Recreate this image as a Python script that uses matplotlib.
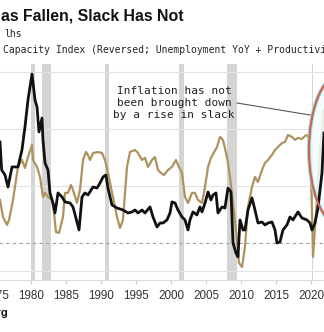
import numpy as np
import matplotlib
matplotlib.use("Agg")
import matplotlib.pyplot as plt
from matplotlib.patches import Ellipse

# Inflation (black, lhs, %)
infl_year = [1975.57, 1975.81, 1976.29, 1976.71, 1977.29, 1977.71, 1978.14, 1978.71, 1979.14, 1979.57,
             1980.14, 1980.57, 1980.86, 1981.14, 1981.57, 1981.71, 1982.00, 1982.43, 1982.71, 1983.14,
             1983.43, 1983.86, 1984.43, 1984.86, 1985.57, 1986.00, 1986.57, 1986.86, 1987.29, 1987.71,
             1988.14, 1988.86, 1989.43, 1989.86, 1990.29, 1990.71, 1991.00, 1991.57, 1992.29, 1993.14,
             1993.86, 1994.43, 1994.86, 1995.29, 1995.86, 1996.29, 1997.00, 1997.43, 1998.00, 1998.43,
             1998.86, 1999.43, 1999.86, 2000.14, 2000.57, 2001.00, 2001.57, 2002.00, 2002.43, 2002.71,
             2003.14, 2003.71, 2004.14, 2004.43, 2004.86, 2005.29, 2005.71, 2006.00, 2006.43, 2006.71,
             2007.29, 2007.71, 2008.14, 2008.57, 2008.86, 2009.29, 2009.57, 2009.86, 2010.29, 2010.57,
             2011.00, 2011.57, 2012.00, 2012.43, 2013.00, 2013.43, 2013.86, 2014.43, 2014.86, 2015.14,
             2015.57, 2016.00, 2016.57, 2017.00, 2017.43, 2018.14, 2018.71, 2019.43, 2019.86, 2020.14,
             2020.57, 2021.00, 2021.57, 2021.86]
infl_val = [8.86, 6.40, 5.96, 4.91, 6.67, 6.67, 6.67, 8.16, 10.18, 12.54,
            14.82, 12.54, 11.93, 9.74, 10.96, 9.04, 7.02, 6.40, 4.39, 3.51,
            2.63, 4.39, 4.04, 3.60, 3.51, 3.16, 1.84, 1.14, 4.04, 4.39,
            4.21, 4.91, 4.82, 5.26, 5.79, 5.96, 4.82, 3.33, 3.07, 2.89,
            2.63, 2.72, 2.89, 2.63, 2.89, 2.63, 3.16, 2.28, 1.40, 1.75,
            1.75, 2.02, 2.63, 3.60, 3.51, 2.89, 2.28, 2.02, 1.14, 2.02,
            2.72, 2.46, 3.16, 2.72, 3.51, 4.47, 3.77, 4.21, 4.39, 2.63,
            3.16, 3.07, 4.82, 4.47, 0.00, -0.88, -1.23, 2.02, 1.14, 1.14,
            2.89, 3.95, 2.89, 1.75, 1.84, 1.58, 1.75, 1.84, 1.14, 0.00,
            0.09, 1.14, 1.58, 2.28, 2.02, 2.72, 2.19, 2.02, 1.75, 1.14,
            1.75, 3.07, 6.14, 9.65]

# Capacity index, reversed (tan), in lhs-equivalent units
cap_year = [1975.57, 1976.00, 1976.57, 1976.86, 1977.43, 1977.86, 1978.14, 1978.71, 1979.14, 1979.57,
            1980.14, 1980.29, 1980.86, 1981.29, 1981.71, 1982.00, 1982.43, 1983.00, 1983.29, 1983.57,
            1984.00, 1984.57, 1984.86, 1985.29, 1985.71, 1986.00, 1986.57, 1987.00, 1987.43, 1987.86,
            1988.14, 1988.43, 1988.86, 1989.57, 1990.14, 1990.57, 1991.00, 1991.71, 1992.29, 1992.71,
            1993.14, 1993.71, 1994.14, 1994.86, 1995.29, 1995.86, 1996.29, 1996.71, 1997.29, 1997.71,
            1998.14, 1998.57, 1999.00, 1999.57, 2000.14, 2000.71, 2001.14, 2001.57, 2002.00, 2002.43,
            2003.00, 2003.43, 2003.86, 2004.43, 2004.86, 2005.29, 2005.71, 2006.57, 2007.00, 2007.43,
            2008.00, 2008.43, 2008.86, 2009.43, 2009.71, 2010.14, 2010.57, 2011.00, 2011.57, 2012.00,
            2012.43, 2013.00, 2013.43, 2013.86, 2014.43, 2014.86, 2015.29, 2015.86, 2016.29, 2016.71,
            2017.29, 2017.71, 2018.14, 2018.71, 2019.14, 2019.43, 2019.86, 2020.14, 2020.29, 2020.57,
            2020.86, 2021.29, 2021.86]
cap_val = [3.77, 2.28, 1.58, 2.02, 3.77, 5.53, 6.67, 7.28, 6.58, 7.54,
           8.60, 7.28, 6.67, 5.79, 4.04, 4.39, 4.04, 3.77, 2.63, 0.96,
           0.88, 2.28, 4.39, 4.39, 5.09, 4.65, 3.51, 4.65, 7.28, 7.98,
           7.72, 7.28, 7.89, 7.98, 7.89, 7.28, 6.14, 4.04, 2.28, 1.32,
           2.02, 6.67, 7.98, 8.16, 7.89, 7.28, 7.46, 6.67, 7.28, 7.54,
           6.40, 6.14, 5.96, 6.40, 6.67, 7.28, 6.67, 6.14, 4.04, 3.51,
           4.39, 4.39, 3.77, 3.51, 4.91, 6.67, 7.46, 8.42, 9.30, 9.04,
           7.54, 5.79, 3.51, 0.26, -1.75, -2.11, -0.35, 3.16, 4.91, 5.79,
           5.35, 6.40, 7.02, 7.28, 7.72, 8.16, 8.42, 8.77, 8.86, 9.47,
           9.30, 9.04, 9.21, 9.12, 9.39, 9.47, 9.04, 2.89, -1.23, 1.40,
           3.77, 8.16, 11.67]

recessions = [(1980.0, 1980.55), (1981.55, 1982.9), (1990.55, 1991.2),
              (2001.2, 2001.9), (2007.95, 2009.5), (2020.1, 2020.35)]
xticks = [1975, 1980, 1985, 1990, 1995, 2000, 2005, 2010, 2015, 2020]

W, H = 324, 332
fig = plt.figure(figsize=(W / 100, H / 100), dpi=100)
ax = fig.add_axes([-4 / W, (H - 280) / H, 328 / W, 216 / H])
ax.set_xlim(1975, 2021.86)
ax.set_ylim(-3.25, 15.7)

for a, b in recessions:
    ax.axvspan(a, b, color="#d4d4d4", lw=0, zorder=0)
for g in [-2.5, 5, 10, 15]:
    ax.axhline(g, color="#e2e2e2", lw=0.8, zorder=0.5)
ax.axhline(0, color="#a0a0a0", lw=0.8, ls=(0, (3, 3)), zorder=0.5)

ax.plot(cap_year, cap_val, color="#b0925f", lw=1.6, zorder=2)
ell = Ellipse((2024.14, 8.16), 8.86, 13.16, facecolor="#f2fdfd", edgecolor="#8ee8e6",
              lw=3.0, alpha=0.85, zorder=2.5)
ax.add_patch(ell)
ax.add_patch(Ellipse((2024.14, 8.16), 8.86, 13.16, facecolor="none", edgecolor="#d4604e",
                     lw=1.6, zorder=4))
ax.plot(infl_year, infl_val, color="#111111", lw=2.0, zorder=3)

for s in ["top", "right", "left"]:
    ax.spines[s].set_visible(False)
ax.spines["bottom"].set_color("#dddddd")
ax.set_yticks([])
ax.set_xticks(xticks)
ax.set_xticklabels([str(t) for t in xticks], fontsize=8.4, color="#333333",
                   family="Liberation Sans")
ax.tick_params(axis="x", length=3, color="#cccccc", pad=4)

fig.text(1 / W, 1 - 16 / H, "as Fallen, Slack Has Not", fontsize=11.4, fontweight="bold",
         family="Liberation Sans", va="center", ha="left", color="#111111")
fig.text(4 / W, 1 - 34 / H, "lhs", fontsize=7, family="DejaVu Sans Mono",
         va="center", ha="left", color="#222222")
fig.text(3 / W, 1 - 50 / H, "Capacity Index (Reversed; Unemployment YoY + Productivity YoY)",
         fontsize=7, family="DejaVu Sans Mono", va="center", ha="left", color="#222222")
fig.text(174 / W, 1 - 103 / H, "Inflation has not\nbeen brought down\nby a rise in slack",
         fontsize=8, family="DejaVu Sans Mono", va="center", ha="center",
         linespacing=1.25, color="#222222", zorder=5)
fig.add_artist(plt.Line2D([237 / W, 310 / W], [1 - 103 / H, 1 - 115 / H],
                          color="#555555", lw=0.8))
fig.text(8 / W, 1 - 313 / H, "Bloomberg", fontsize=8, fontweight="bold",
         family="Liberation Sans", va="center", ha="right", color="#111111")

fig.savefig("out.png", dpi=100)
